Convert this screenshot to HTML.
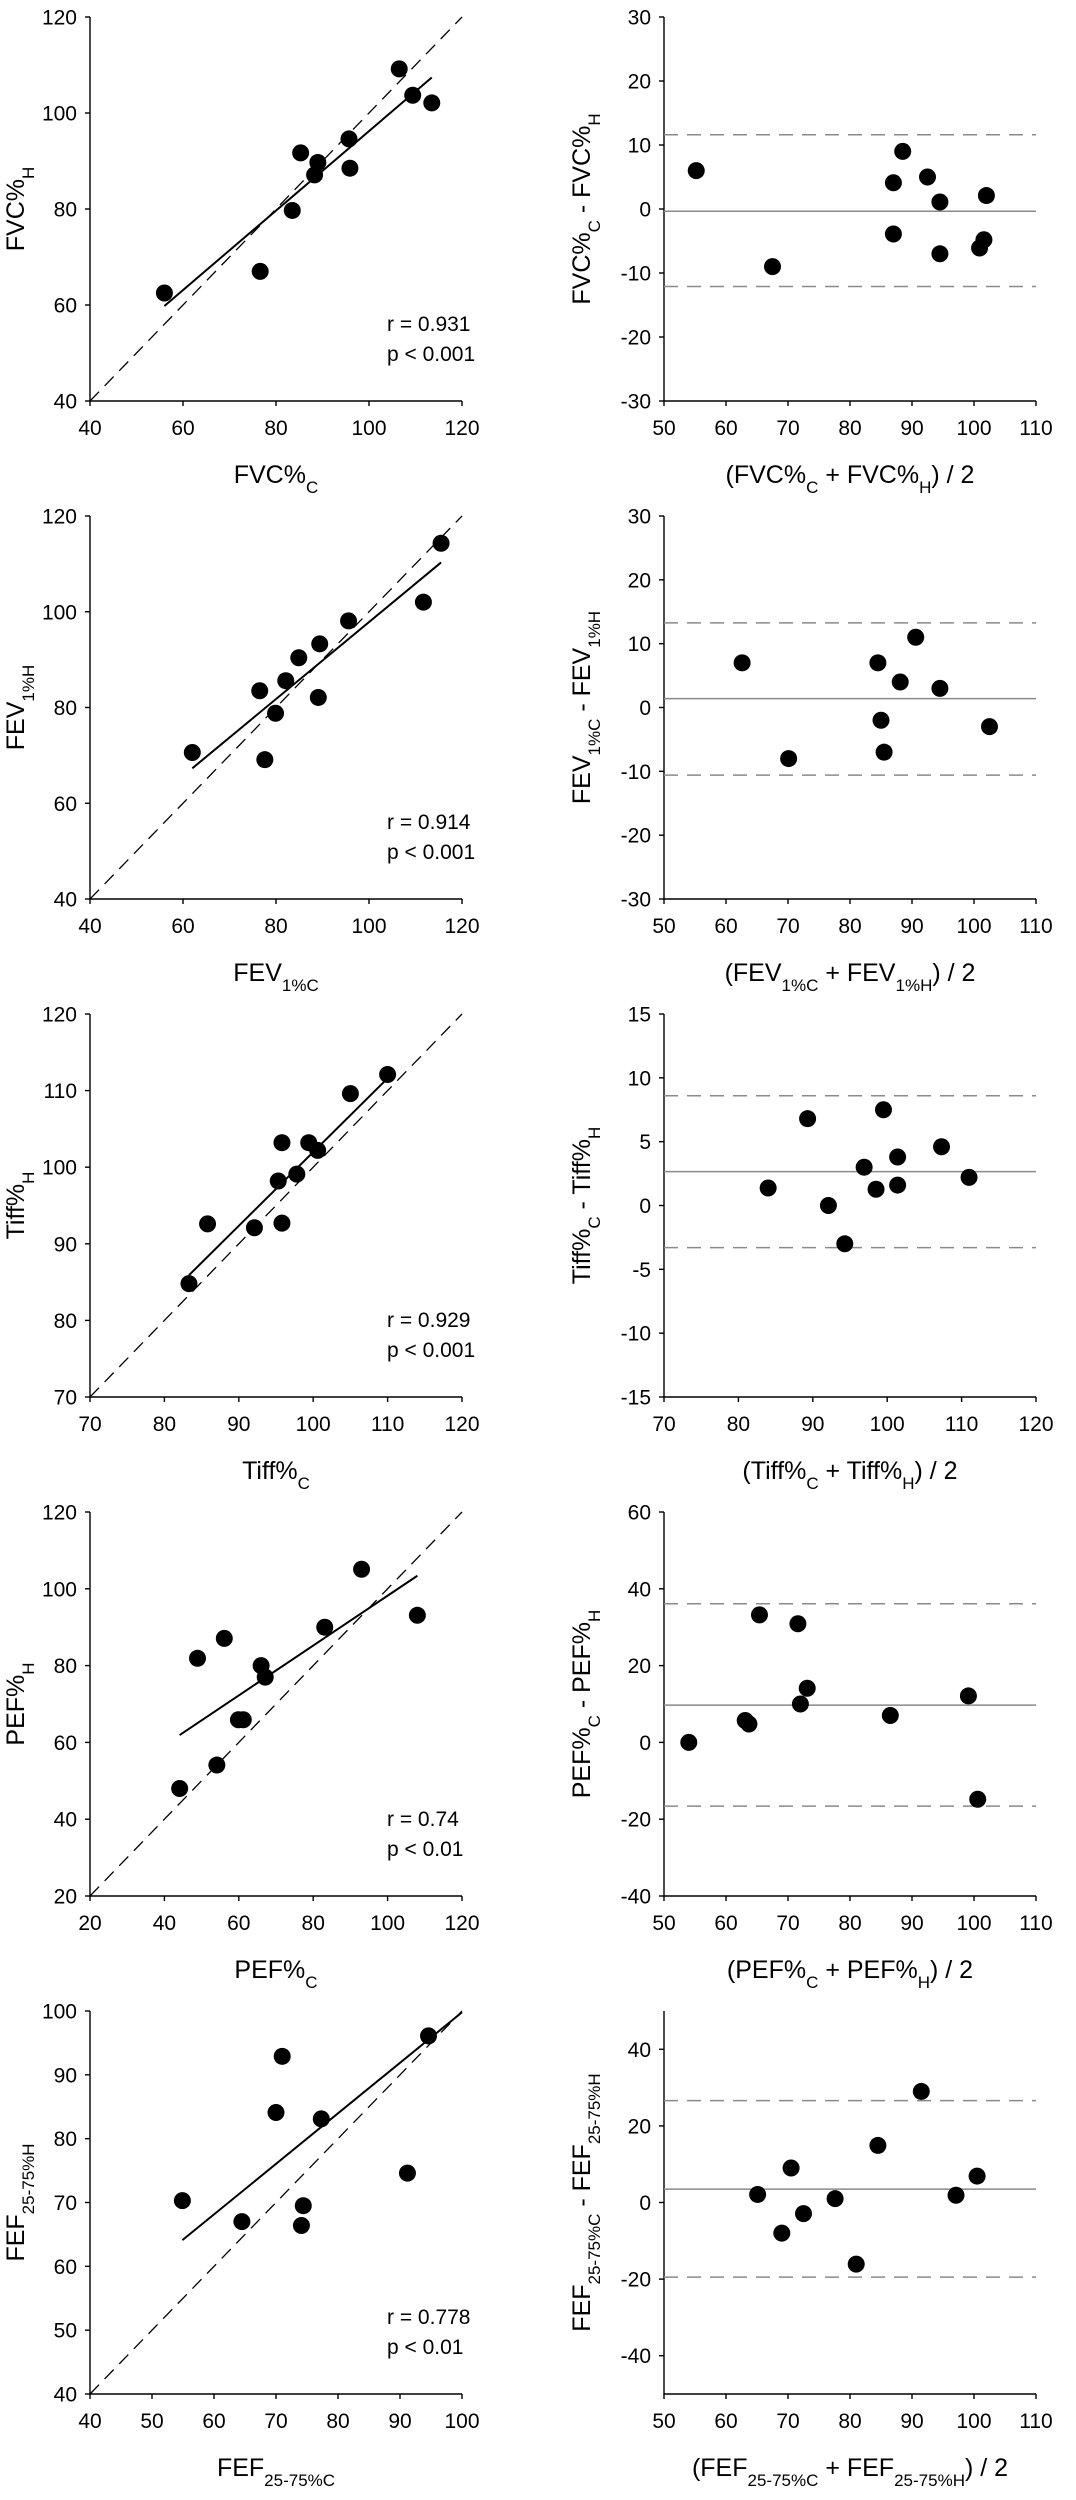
<!DOCTYPE html>
<html><head><meta charset="utf-8">
<style>
html,body{margin:0;padding:0;background:#fff;}
svg{display:block;font-family:"Liberation Sans",Arial,sans-serif;}
</style></head>
<body>
<svg id="fig" width="1076" height="2500" viewBox="0 0 1076 2500" xmlns="http://www.w3.org/2000/svg"></svg>
<script>
// ---- Data ----
// Row 1: FVC
const fvcC = [56.0, 76.6, 83.5, 85.3, 88.3, 89.0, 95.7, 95.9, 106.5, 109.4, 113.5];
const fvcH = [62.5, 67.0, 79.7, 91.7, 87.1, 89.7, 94.6, 88.5, 109.2, 103.7, 102.1];
const fvcFitX = [56.0, 113.5];
const fvcFitY = [59.8, 107.4];
const fvcMean = [55.2, 67.5, 87.0, 87.0, 88.5, 92.5, 94.5, 94.5, 102.0, 100.9, 101.6];
const fvcDiff = [6.0, -9.0, 4.1, -3.9, 9.0, 5.0, 1.1, -7.0, 2.1, -6.1, -4.8];
const fvcLimits = [-0.35, 11.6, -12.1];
// Row 2: FEV1
const fevC = [62.0, 76.5, 77.6, 79.9, 82.1, 84.9, 89.1, 89.4, 95.6, 111.7, 115.5];
const fevH = [70.6, 83.5, 69.1, 78.8, 85.6, 90.4, 82.1, 93.3, 98.1, 102.0, 114.3];
const fevFitX = [62.0, 115.5];
const fevFitY = [67.3, 110.3];
const fevMean = [62.6, 70.1, 84.5, 85.0, 85.5, 88.1, 90.6, 94.5, 102.5];
const fevDiff = [7.0, -8.0, 7.0, -2.0, -7.0, 4.0, 11.0, 3.0, -3.0];
const fevLimits = [1.4, 13.25, -10.6];
// Row 3: Tiff
const tiffC = [83.3, 85.8, 92.1, 95.3, 95.8, 95.8, 97.8, 99.4, 100.6, 105.0, 110.0];
const tiffH = [84.8, 92.6, 92.1, 98.2, 103.2, 92.7, 99.1, 103.2, 102.2, 109.6, 112.1];
const tiffFitX = [83.3, 110.0];
const tiffFitY = [85.9, 111.6];
const tiffMean = [84.0, 89.3, 92.1, 94.3, 96.9, 98.5, 99.5, 101.4, 101.4, 107.3, 111.0];
const tiffDiff = [1.37, 6.8, 0.0, -3.0, 3.0, 1.27, 7.5, 3.8, 1.6, 4.6, 2.2];
const tiffLimits = [2.65, 8.6, -3.3];
// Row 4: PEF
const pefC = [44.1, 48.9, 54.1, 56.1, 59.9, 61.2, 66.0, 67.1, 83.1, 93.0, 108.0];
const pefH = [48.0, 81.9, 54.1, 87.1, 65.9, 65.9, 80.0, 77.0, 90.0, 105.1, 93.1];
const pefFitX = [44.1, 108.0];
const pefFitY = [61.9, 103.4];
const pefMean = [54.0, 63.1, 63.7, 65.4, 71.6, 72.0, 73.1, 86.5, 99.1, 100.6];
const pefDiff = [0.0, 5.7, 4.8, 33.2, 30.9, 10.0, 14.1, 7.0, 12.1, -14.8];
const pefLimits = [9.7, 36.1, -16.6];
// Row 5: FEF25-75
const fefC = [54.9, 64.5, 70.0, 71.0, 74.1, 74.4, 77.3, 91.2, 94.6];
const fefH = [70.3, 67.0, 84.1, 92.9, 66.4, 69.5, 83.1, 74.6, 96.1];
const fefFitX = [54.9, 100.0];
const fefFitY = [64.1, 99.8];
const fefMean = [65.1, 69.0, 70.5, 72.5, 77.6, 81.0, 84.5, 91.5, 97.1, 100.5];
const fefDiff = [2.1, -8.0, 9.0, -2.9, 1.0, -16.1, 14.9, 29.0, 1.9, 6.9];
const fefLimits = [3.5, 26.6, -19.5];

// Tick label arrays
const ticks40to120 = [40, 60, 80, 100, 120];
const ticks20to120 = [20, 40, 60, 80, 100, 120];
const ticks70to120 = [70, 80, 90, 100, 110, 120];
const ticks40to100 = [40, 50, 60, 70, 80, 90, 100];
const ticks50to110 = [50, 60, 70, 80, 90, 100, 110];
const ticksM30to30 = [-30, -20, -10, 0, 10, 20, 30];
const ticksM15to15 = [-15, -10, -5, 0, 5, 10, 15];
const ticksM40to60 = [-40, -20, 0, 20, 40, 60];
const ticksM40to40 = [-40, -20, 0, 20, 40];
const stats = [["r = 0.931","p < 0.001"],["r = 0.914","p < 0.001"],["r = 0.929","p < 0.001"],["r = 0.74","p < 0.01"],["r = 0.778","p < 0.01"]];

const NS = "http://www.w3.org/2000/svg";
const svg = document.getElementById("fig");
function mk(tag, attrs, parent){
  const e = document.createElementNS(NS, tag);
  for (const k in attrs) e.setAttribute(k, attrs[k]);
  (parent||svg).appendChild(e);
  return e;
}
function label(parent, parts, x, y, size, rotate, name){
  const t = mk("text", {x:x, y:y, "font-size":size, "text-anchor":"middle", fill:"#000"}, parent);
  
  
  if (rotate) t.setAttribute("transform", "rotate(-90 " + x + " " + y + ")");
  parts.forEach(p => {
    const s = mk("tspan", {}, t);
    s.textContent = p[0];
    if (p[1]) { s.setAttribute("font-size", Math.round(size*0.66)); s.setAttribute("baseline-shift", "sub"); }
  });
  return t;
}

const rows = [
 {top:17, bot:401, xl:[40,120,ticks40to120], yl:[40,120,ticks40to120], x:fvcC, y:fvcH, fx:fvcFitX, fy:fvcFitY,
  bx:[50,110,ticks50to110], by:[-30,30,ticksM30to30], m:fvcMean, d:fvcDiff, lim:fvcLimits,
  yT:[["FVC%",0],["H",1]], xT:[["FVC%",0],["C",1]], byT:[["FVC%",0],["C",1],[" - FVC%",0],["H",1]], bxT:[["(FVC%",0],["C",1],[" + FVC%",0],["H",1],[") / 2",0]], key:"fvc"},
 {top:516, bot:899, xl:[40,120,ticks40to120], yl:[40,120,ticks40to120], x:fevC, y:fevH, fx:fevFitX, fy:fevFitY,
  bx:[50,110,ticks50to110], by:[-30,30,ticksM30to30], m:fevMean, d:fevDiff, lim:fevLimits,
  yT:[["FEV",0],["1%H",1]], xT:[["FEV",0],["1%C",1]], byT:[["FEV",0],["1%C",1],[" - FEV",0],["1%H",1]], bxT:[["(FEV",0],["1%C",1],[" + FEV",0],["1%H",1],[") / 2",0]], key:"fev1"},
 {top:1014, bot:1397, xl:[70,120,ticks70to120], yl:[70,120,ticks70to120], x:tiffC, y:tiffH, fx:tiffFitX, fy:tiffFitY,
  bx:[70,120,ticks70to120], by:[-15,15,ticksM15to15], m:tiffMean, d:tiffDiff, lim:tiffLimits,
  yT:[["Tiff%",0],["H",1]], xT:[["Tiff%",0],["C",1]], byT:[["Tiff%",0],["C",1],[" - Tiff%",0],["H",1]], bxT:[["(Tiff%",0],["C",1],[" + Tiff%",0],["H",1],[") / 2",0]], key:"tiff"},
 {top:1512, bot:1896, xl:[20,120,ticks20to120], yl:[20,120,ticks20to120], x:pefC, y:pefH, fx:pefFitX, fy:pefFitY,
  bx:[50,110,ticks50to110], by:[-40,60,ticksM40to60], m:pefMean, d:pefDiff, lim:pefLimits,
  yT:[["PEF%",0],["H",1]], xT:[["PEF%",0],["C",1]], byT:[["PEF%",0],["C",1],[" - PEF%",0],["H",1]], bxT:[["(PEF%",0],["C",1],[" + PEF%",0],["H",1],[") / 2",0]], key:"pef"},
 {top:2011, bot:2394, xl:[40,100,ticks40to100], yl:[40,100,ticks40to100], x:fefC, y:fefH, fx:fefFitX, fy:fefFitY,
  bx:[50,110,ticks50to110], by:[-50,50,ticksM40to40], m:fefMean, d:fefDiff, lim:fefLimits,
  yT:[["FEF",0],["25-75%H",1]], xT:[["FEF",0],["25-75%C",1]], byT:[["FEF",0],["25-75%C",1],[" - FEF",0],["25-75%H",1]], bxT:[["(FEF",0],["25-75%C",1],[" + FEF",0],["25-75%H",1],[") / 2",0]], key:"fef"}
];

function axes(g, X0, X1, top, bot, xr, yr, key){
  const sx = v => X0 + (v - xr[0])/(xr[1]-xr[0])*(X1-X0);
  const sy = v => bot - (v - yr[0])/(yr[1]-yr[0])*(bot-top);
  const ax = mk("path", {d:`M${X0},${top}V${bot}H${X1}`, stroke:"#000", "stroke-width":1.4, fill:"none"}, g);
  
  
  xr[2].forEach(v => {
    const x = sx(v);
    mk("line", {x1:x, x2:x, y1:bot, y2:bot+5, stroke:"#000", "stroke-width":1.4}, g);
    const t = mk("text", {x:x, y:bot+34, "font-size":21, "text-anchor":"middle"}, g);
    
    
    t.textContent = v;
  });
  yr[2].forEach(v => {
    const y = sy(v);
    mk("line", {x1:X0-5, x2:X0, y1:y, y2:y, stroke:"#000", "stroke-width":1.4}, g);
    const t = mk("text", {x:X0-13, y:y+7.5, "font-size":21, "text-anchor":"end"}, g);
    
    
    t.textContent = v;
  });
  return [sx, sy];
}

rows.forEach((r, i) => {
  const g = mk("g", {});
  
  
  const L0 = 90, L1 = 462;
  const [sx, sy] = axes(g, L0, L1, r.top, r.bot, r.xl, r.yl, r.key + '-corr');
  const id = mk("line", {x1:sx(r.xl[0]), y1:sy(r.yl[0]), x2:sx(r.xl[1]), y2:sy(r.yl[1]), stroke:"#000", "stroke-width":1.3, "stroke-dasharray":"13,8"}, g);
  
  
  const fit = mk("line", {x1:sx(r.fx[0]), y1:sy(r.fy[0]), x2:sx(r.fx[1]), y2:sy(r.fy[1]), stroke:"#000", "stroke-width":2}, g);
  
  
  r.x.forEach((v, j) => {
    const c = mk("circle", {cx:sx(v), cy:sy(r.y[j]), r:8.5, fill:"#000"}, g);
    
    
  });
  const s1 = mk("text", {x:387, y:r.bot-70, "font-size":21}, g);
  
  
  s1.textContent = stats[i][0];
  const s2 = mk("text", {x:387, y:r.bot-40, "font-size":21}, g);
  
  
  s2.textContent = stats[i][1];
  label(g, r.yT, 24, (r.top+r.bot)/2, 25, true, r.key + '-corr-y-axis-title');
  label(g, r.xT, (L0+L1)/2, r.bot+82, 25, false, r.key + '-corr-x-axis-title');

  const b = mk("g", {});
  
  
  const R0 = 664, R1 = 1036;
  const [bx, by] = axes(b, R0, R1, r.top, r.bot, r.bx, r.by, r.key + '-ba');
  const ml = mk("line", {x1:R0, x2:R1, y1:by(r.lim[0]), y2:by(r.lim[0]), stroke:"#8a8a8a", "stroke-width":1.5}, b);
  
  
  [1,2].forEach(k => {
    const l = mk("line", {x1:R0, x2:R1, y1:by(r.lim[k]), y2:by(r.lim[k]), stroke:"#8a8a8a", "stroke-width":1.5, "stroke-dasharray":"14,9"}, b);
    
    
  });
  r.m.forEach((v, j) => {
    const c = mk("circle", {cx:bx(v), cy:by(r.d[j]), r:8.5, fill:"#000"}, b);
    
    
  });
  label(b, r.byT, 590, (r.top+r.bot)/2, 25, true, r.key + '-ba-y-axis-title');
  label(b, r.bxT, (R0+R1)/2, r.bot+82, 25, false, r.key + '-ba-x-axis-title');
});
</script>
</body></html>
